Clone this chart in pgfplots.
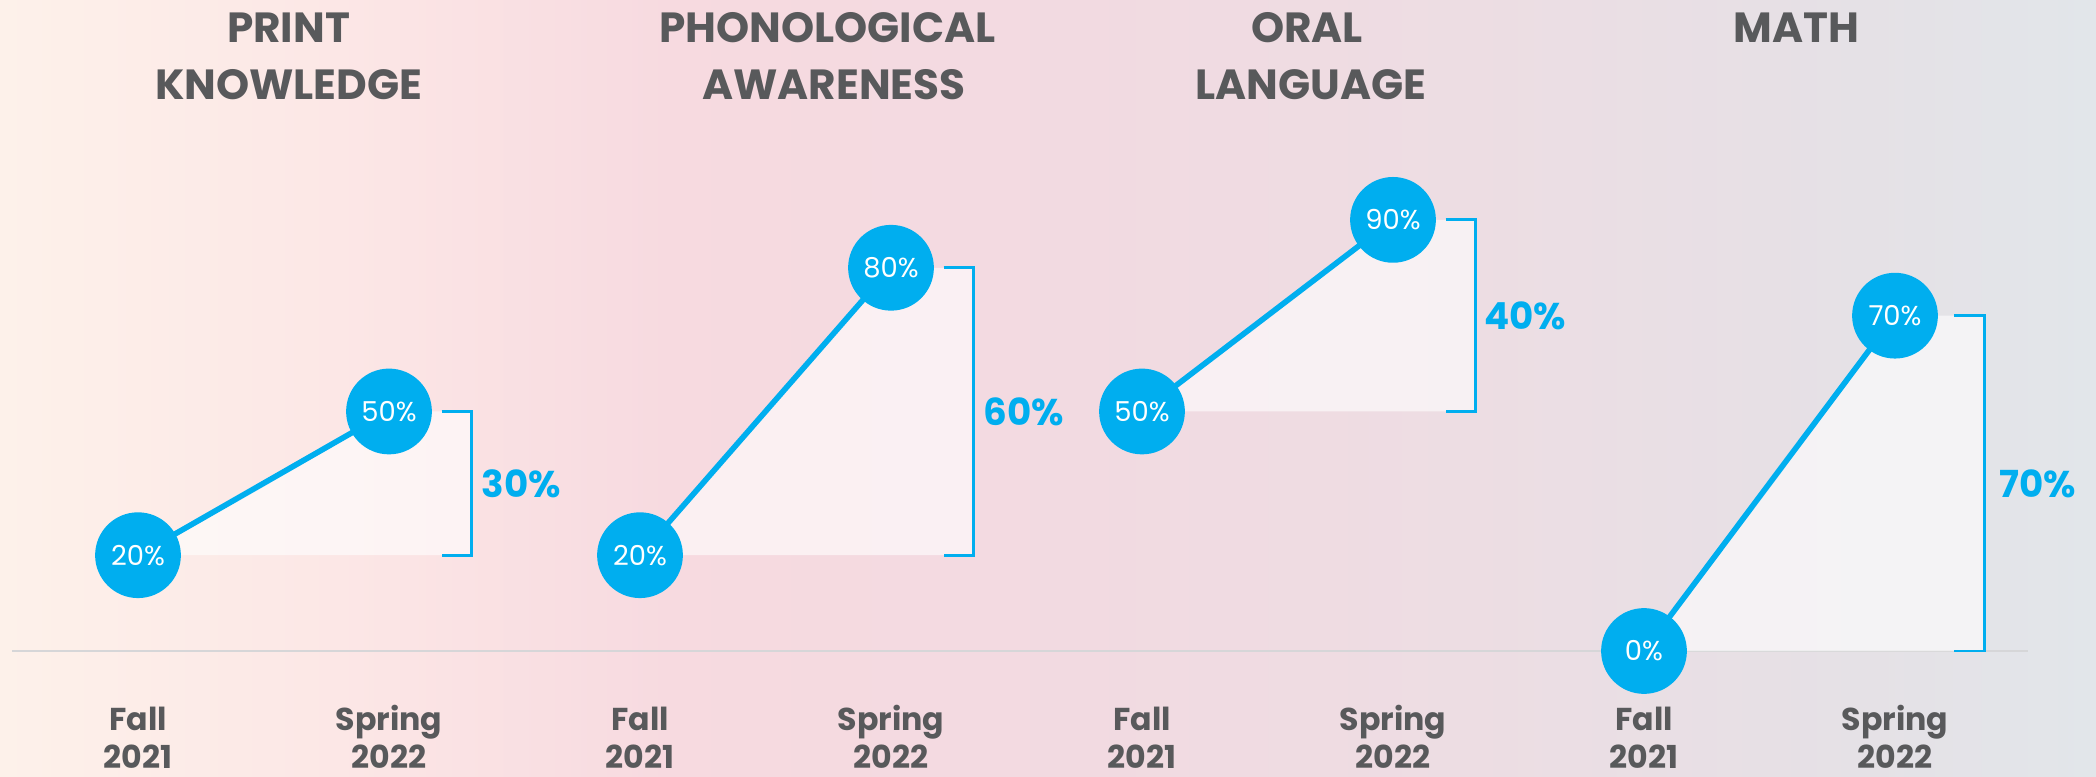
\documentclass[border=0pt]{standalone}
\usepackage{fontspec}
\setmainfont{Poppins}
\usepackage{pgfplots}
\pgfplotsset{compat=1.18}
\definecolor{cy}{HTML}{00AEEF}
\definecolor{tg}{HTML}{58595B}
\definecolor{gl}{HTML}{D6D6D8}
\definecolor{b0}{HTML}{FDF1EA}
\definecolor{b1}{HTML}{FCE7E6}
\definecolor{b2}{HTML}{F7DAE0}
\definecolor{b3}{HTML}{F2DAE1}
\definecolor{b4}{HTML}{EDDDE3}
\definecolor{b5}{HTML}{E5E1E6}
\definecolor{b6}{HTML}{E2E6EA}
\pgfdeclarehorizontalshading{bg}{100bp}{color(0bp)=(b0); color(25bp)=(b0); color(33bp)=(b1); color(41bp)=(b2); color(50.5bp)=(b3); color(60bp)=(b4); color(69.5bp)=(b5); color(75bp)=(b6); color(100bp)=(b6)}
\newcommand{\ttl}{\fontsize{12}{16}\selectfont\bfseries}
\newcommand{\xl}{\fontsize{9}{10.5}\selectfont\bfseries}
\begin{document}
\begin{tikzpicture}
\begin{axis}[scale only axis, width=20.96cm, height=7.77cm,
  xmin=-0.5498, xmax=7.8008, ymin=-26.3, ymax=135.9,
  hide axis, clip=false,
  circ/.style={cy, line width=1.6pt, mark=*, mark size=11.4pt,
    mark options={fill=cy, draw=none},
    nodes near coords, point meta=explicit symbolic,
    every node near coord/.style={anchor=center, text=white, font=\fontsize{7.8}{8}\selectfont}},
  filla/.style={draw=none, fill=white, fill opacity=0.6},
  brk/.style={cy, line width=0.8pt},
  blab/.style={draw=none, mark=none, nodes near coords, point meta=explicit symbolic,
    every node near coord/.style={anchor=center, text=cy, font=\fontsize{10.6}{12}\selectfont\bfseries}},
]
\shade[shading=bg] (rel axis cs:0,0) rectangle (rel axis cs:1,1);
\coordinate (BL) at (rel axis cs:0,0);
\coordinate (TR) at (rel axis cs:1,1);
% baseline
\addplot[gl, line width=0.6pt] coordinates {(-0.5,0) (7.53,0)};
% fills
\addplot[filla] coordinates {(0,20) (1,50) (1.33,50) (1.33,20)} --cycle;
\addplot[filla] coordinates {(2,20) (3,80) (3.33,80) (3.33,20)} --cycle;
\addplot[filla] coordinates {(4,50) (5,90) (5.33,90) (5.33,50)} --cycle;
\addplot[filla] coordinates {(6,0) (7,70) (7.355,70) (7.355,0)} --cycle;
% brackets
\addplot[brk] coordinates {(1.21,50) (1.33,50) (1.33,20) (1.21,20)};
\addplot[brk] coordinates {(3.21,80) (3.33,80) (3.33,20) (3.21,20)};
\addplot[brk] coordinates {(5.21,90) (5.33,90) (5.33,50) (5.21,50)};
\addplot[brk] coordinates {(7.235,70) (7.355,70) (7.355,0) (7.235,0)};
% bracket labels
\addplot[blab] coordinates {(1.527,35)[30\%] (3.53,50)[60\%] (5.527,70)[40\%] (7.57,35)[70\%]};
% lines with circles
\addplot[circ] coordinates {(0,20)[20\%] (1,50)[50\%]};
\addplot[circ] coordinates {(2,20)[20\%] (3,80)[80\%]};
\addplot[circ] coordinates {(4,50)[50\%] (5,90)[90\%]};
\addplot[circ] coordinates {(6,0)[0\%] (7,70)[70\%]};
% titles
\node[anchor=base, text=tg, font=\ttl] at (axis cs:0.60,127.1) {PRINT};
\node[anchor=base, text=tg, font=\ttl] at (axis cs:0.60,115.2) {KNOWLEDGE};
\node[anchor=base, text=tg, font=\ttl] at (axis cs:2.747,127.1) {PHONOLOGICAL};
\node[anchor=base, text=tg, font=\ttl] at (axis cs:2.773,115.2) {AWARENESS};
\node[anchor=base, text=tg, font=\ttl] at (axis cs:4.658,127.1) {ORAL};
\node[anchor=base, text=tg, font=\ttl] at (axis cs:4.674,115.2) {LANGUAGE};
\node[anchor=base, text=tg, font=\ttl] at (axis cs:6.608,127.1) {MATH};
% x labels
\foreach \p in {0,2,4,6}{
  \edef\tmp{\noexpand\node[anchor=base, text=tg, font=\noexpand\xl] at (axis cs:\p,-16.6) {Fall};
  \noexpand\node[anchor=base, text=tg, font=\noexpand\xl] at (axis cs:\p,-24.6) {2021};}\tmp
}
\foreach \p in {1,3,5,7}{
  \edef\tmp{\noexpand\node[anchor=base, text=tg, font=\noexpand\xl] at (axis cs:\p,-16.6) {Spring};
  \noexpand\node[anchor=base, text=tg, font=\noexpand\xl] at (axis cs:\p,-24.6) {2022};}\tmp
}
\end{axis}
\pgfresetboundingbox
\path[use as bounding box] (BL) rectangle (TR);
\end{tikzpicture}
\end{document}
